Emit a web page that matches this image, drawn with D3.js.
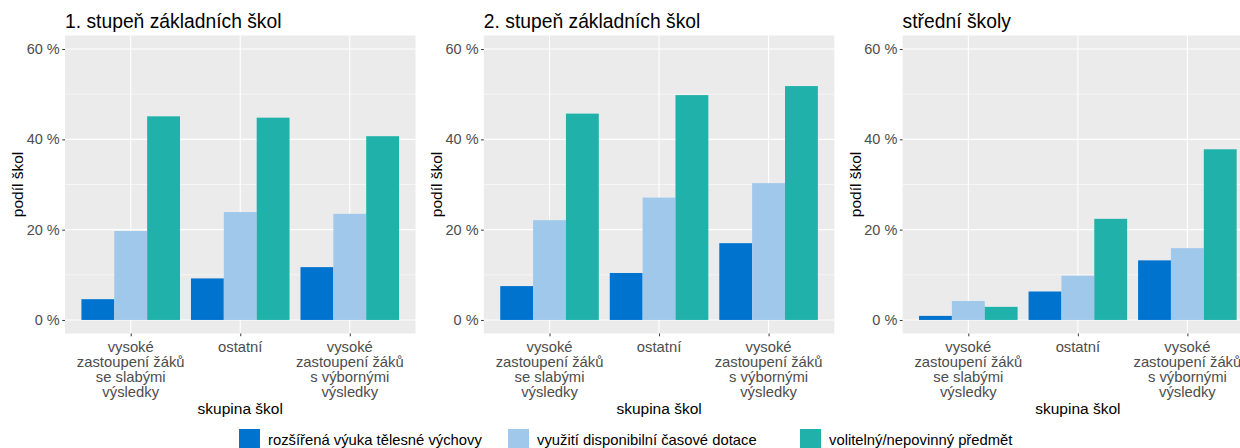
<!DOCTYPE html>
<html>
<head>
<meta charset="utf-8">
<script src="https://cdn.jsdelivr.net/npm/d3@7"></script>
<style>
  body { margin: 0; background: #fff; }
  svg { display: block; font-family: "Liberation Sans", Arial, sans-serif; }
</style>
</head>
<body>
<svg id="chart" width="1240" height="448"></svg>
<script>
// data
const panels   = ["1. stupeň základních škol", "2. stupeň základních škol", "střední školy"];
const groups   = ["slabé", "ostatní", "výborné"];
const groupLabels = [
  ["vysoké", "zastoupení žáků", "se slabými", "výsledky"],
  ["ostatní"],
  ["vysoké", "zastoupení žáků", "s výbornými", "výsledky"]
];
const measures = ["rozšířená výuka tělesné výchovy", "využití disponibilní časové dotace", "volitelný/nepovinný předmět"];
const colors   = ["#0073CF", "#9FC8EB", "#20B2AA"];

// % of schools, one array per measure, [panel][group]
const telesna  = [[4.6, 9.2, 11.7], [7.5, 10.4, 17.0], [0.9, 6.3, 13.2]];
const dotace   = [[19.7, 23.9, 23.5], [22.1, 27.1, 30.3], [4.2, 9.8, 15.9]];
const volitelny = [[45.1, 44.8, 40.7], [45.7, 49.8, 51.8], [2.9, 22.4, 37.8]];
const series = [telesna, dotace, volitelny];

const yTicks = [0, 20, 40, 60];
const yMinor = [10, 30, 50];

const svg = d3.select("#chart");

// layout
const panelTop = 35.5, panelH = 298;
const panelW = 350.5;
const panelLefts = [65, 483.8, 902.6];

const x = d3.scalePoint().domain(groups).range([0, panelW]).padding(0.6);
const dodge = d3.scaleBand().domain(measures)
  .range([-0.45 * x.step(), 0.45 * x.step()]).padding(0);
const y = d3.scaleLinear().domain([-3, 63]).range([panelH, 0]);

panels.forEach((title, p) => {
  const g = svg.append("g").attr("transform", `translate(${panelLefts[p]},${panelTop})`);

  g.append("rect").attr("width", panelW).attr("height", panelH).attr("fill", "#EBEBEB");

  // grid
  g.selectAll(".minor").data(yMinor).join("line")
    .attr("x1", 0).attr("x2", panelW)
    .attr("y1", d => y(d)).attr("y2", d => y(d))
    .attr("stroke", "#fff").attr("stroke-width", 0.55);
  g.selectAll(".major").data(yTicks).join("line")
    .attr("x1", 0).attr("x2", panelW)
    .attr("y1", d => y(d)).attr("y2", d => y(d))
    .attr("stroke", "#fff").attr("stroke-width", 1.1);
  g.selectAll(".vgrid").data(groups).join("line")
    .attr("x1", d => x(d)).attr("x2", d => x(d))
    .attr("y1", 0).attr("y2", panelH)
    .attr("stroke", "#fff").attr("stroke-width", 1.1);

  // bars
  const rows = [];
  groups.forEach((gr, gi) => {
    measures.forEach((m, mi) => rows.push({ group: gr, measure: m, mi, value: series[mi][p][gi] }));
  });
  g.selectAll(".bar").data(rows).join("rect")
    .attr("x", d => x(d.group) + dodge(d.measure))
    .attr("width", dodge.bandwidth())
    .attr("y", d => y(d.value))
    .attr("height", d => y(0) - y(d.value))
    .attr("fill", d => colors[d.mi]);

  // y axis
  const yAxis = g.append("g")
    .call(d3.axisLeft(y).tickValues(yTicks).tickSize(2.75).tickPadding(2.5).tickFormat(d => d + " %"));
  yAxis.select(".domain").remove();
  yAxis.selectAll(".tick line").attr("stroke", "#333");
  yAxis.selectAll(".tick text").attr("fill", "#4D4D4D").style("font-size", "14.5px");

  // x axis
  const xAxis = g.append("g").attr("transform", `translate(0,${panelH})`)
    .call(d3.axisBottom(x).tickSize(2.75).tickFormat(""));
  xAxis.select(".domain").remove();
  xAxis.selectAll(".tick line").attr("stroke", "#333");

  groups.forEach((gr, gi) => {
    const t = g.append("text")
      .attr("x", x(gr)).attr("y", panelH + 18.5)
      .attr("text-anchor", "middle")
      .attr("fill", "#4D4D4D").style("font-size", "14.8px");
    groupLabels[gi].forEach((line, li) => {
      t.append("tspan").attr("x", x(gr)).attr("dy", li === 0 ? 0 : 15).text(line);
    });
  });

  // titles
  g.append("text")
    .attr("x", 0).attr("y", -7.5)
    .attr("fill", "#000").style("font-size", "19.3px")
    .text(title);

  g.append("text")
    .attr("x", panelW / 2).attr("y", 378)
    .attr("text-anchor", "middle")
    .attr("fill", "#000").style("font-size", "15.5px")
    .text("skupina škol");

  g.append("text")
    .attr("transform", `translate(-42,${panelH / 2}) rotate(-90)`)
    .attr("text-anchor", "middle")
    .attr("fill", "#000").style("font-size", "15.5px")
    .text("podíl škol");
});

// legend
const legendX = [239, 508, 800];
const legend = svg.append("g");
measures.forEach((m, i) => {
  legend.append("rect")
    .attr("x", legendX[i]).attr("y", 429)
    .attr("width", 21).attr("height", 21)
    .attr("fill", colors[i]);
  legend.append("text")
    .attr("x", legendX[i] + 29).attr("y", 444.5)
    .attr("fill", "#000").style("font-size", "14.8px")
    .text(m);
});
</script>
</body>
</html>
